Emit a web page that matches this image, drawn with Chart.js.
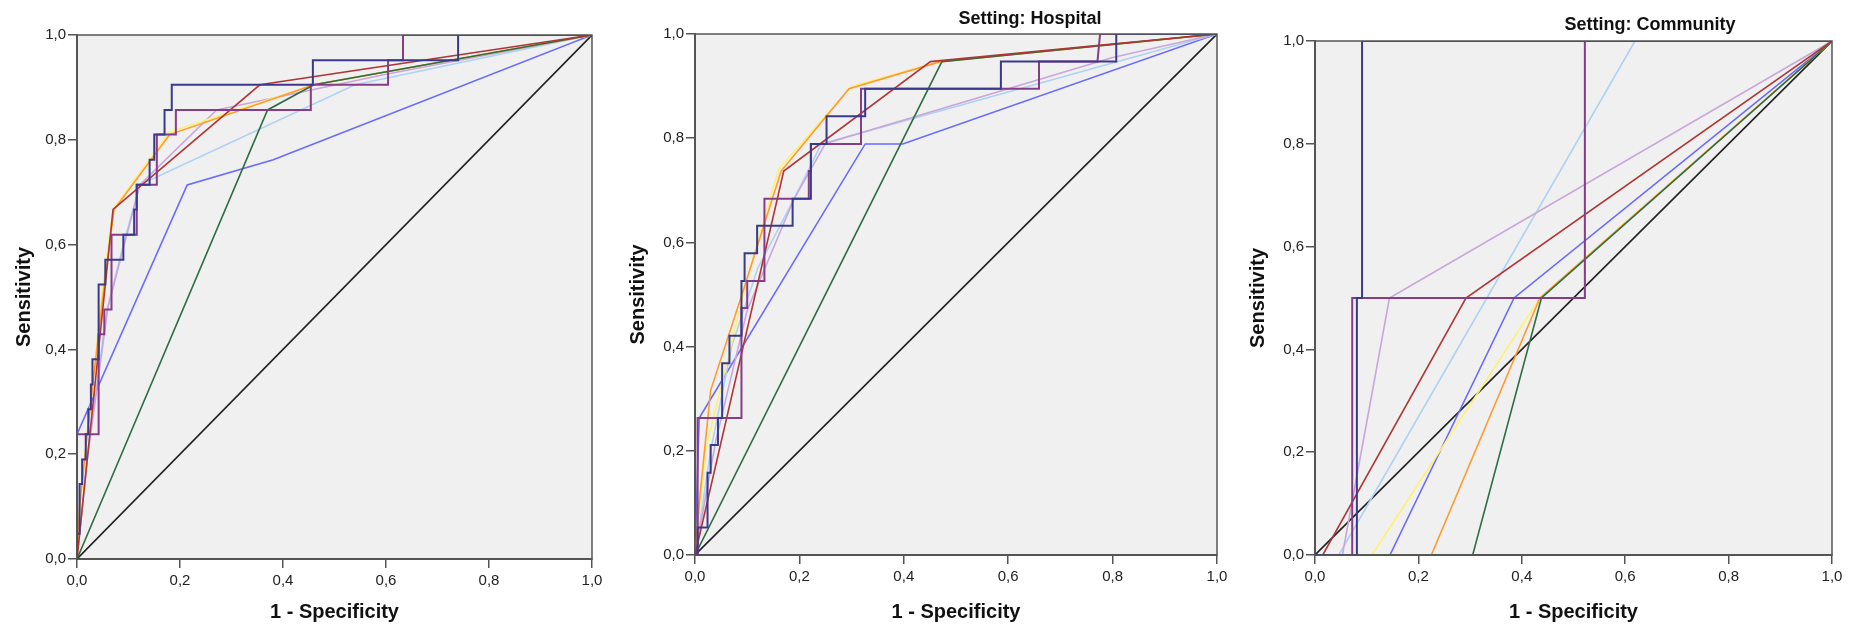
<!DOCTYPE html>
<html>
<head>
<meta charset="utf-8">
<script src="https://cdn.jsdelivr.net/npm/chart.js@4"></script>
<style>
  body { margin: 0; background: #fff; width: 1854px; height: 627px; position: relative; overflow: hidden; }
  canvas { position: absolute; top: 0; }
  .ttl { position: absolute; font: bold 18px 'Liberation Sans', Arial, sans-serif; color: #111; transform: translate(-50%, -50%); white-space: nowrap; }
</style>
</head>
<body>
<canvas id="c1" width="620" height="627" style="left:0"></canvas>
<canvas id="c2" width="620" height="627" style="left:620px"></canvas>
<canvas id="c3" width="614" height="627" style="left:1240px"></canvas>
<div class="ttl" style="left:1030px; top:18px">Setting: Hospital</div>
<div class="ttl" style="left:1650px; top:24px">Setting: Community</div>
<script>
// ROC curves, [1 - specificity, sensitivity] pairs
const refLine = [[0, 0], [1, 1]];

// all settings
const navyAll = [[0,0],[0,0.048],[0.005,0.048],[0.005,0.143],[0.01,0.143],[0.01,0.19],[0.017,0.19],[0.017,0.238],[0.022,0.238],[0.022,0.286],[0.027,0.286],[0.027,0.333],[0.03,0.333],[0.03,0.381],[0.042,0.381],[0.042,0.524],[0.055,0.524],[0.055,0.571],[0.09,0.571],[0.09,0.619],[0.111,0.619],[0.111,0.667],[0.116,0.667],[0.116,0.714],[0.141,0.714],[0.141,0.762],[0.15,0.762],[0.15,0.81],[0.17,0.81],[0.17,0.857],[0.184,0.857],[0.184,0.905],[0.458,0.905],[0.458,0.952],[0.74,0.952],[0.74,1],[1,1]];
const purpleAll = [[0,0],[0,0.238],[0.042,0.238],[0.042,0.429],[0.053,0.429],[0.053,0.476],[0.067,0.476],[0.067,0.619],[0.116,0.619],[0.116,0.714],[0.155,0.714],[0.155,0.81],[0.192,0.81],[0.192,0.857],[0.454,0.857],[0.454,0.905],[0.604,0.905],[0.604,0.952],[0.633,0.952],[0.633,1],[1,1]];
const orangeAll = [[0,0],[0.005,0.1],[0.02,0.24],[0.05,0.5],[0.072,0.667],[0.18,0.81],[0.46,0.905],[1,1]];
const yellowAll = [[0,0],[0.01,0.14],[0.03,0.33],[0.05,0.52],[0.07,0.667],[0.18,0.815],[0.46,0.905],[1,1]];
const redAll = [[0,0],[0.07,0.667],[0.355,0.905],[1,1]];
const greenAll = [[0,0],[0.37,0.857],[0.46,0.905],[1,1]];
const blueAll = [[0,0],[0,0.238],[0.214,0.714],[0.381,0.762],[1,1]];
const lightBlueAll = [[0,0],[0.02,0.2],[0.058,0.475],[0.09,0.6],[0.122,0.714],[0.54,0.905],[1,1]];
const lavenderAll = [[0,0],[0.02,0.19],[0.06,0.48],[0.122,0.714],[0.271,0.857],[0.6,0.925],[1,1]];

// hospital
const navyHosp = [[0,0],[0.005,0],[0.005,0.053],[0.024,0.053],[0.024,0.158],[0.03,0.158],[0.03,0.211],[0.044,0.211],[0.044,0.263],[0.052,0.263],[0.052,0.368],[0.066,0.368],[0.066,0.421],[0.089,0.421],[0.089,0.526],[0.095,0.526],[0.095,0.579],[0.119,0.579],[0.119,0.632],[0.187,0.632],[0.187,0.684],[0.222,0.684],[0.222,0.789],[0.252,0.789],[0.252,0.842],[0.326,0.842],[0.326,0.895],[0.586,0.895],[0.586,0.947],[0.807,0.947],[0.807,1],[1,1]];
const purpleHosp = [[0,0],[0.005,0],[0.005,0.263],[0.089,0.263],[0.089,0.474],[0.1,0.474],[0.1,0.526],[0.133,0.526],[0.133,0.684],[0.218,0.684],[0.218,0.737],[0.222,0.737],[0.222,0.789],[0.318,0.789],[0.318,0.895],[0.659,0.895],[0.659,0.947],[0.771,0.947],[0.776,1],[1,1]];
const orangeHosp = [[0,0],[0.01,0.12],[0.03,0.316],[0.09,0.5],[0.165,0.737],[0.295,0.895],[0.47,0.947],[1,1]];
const yellowHosp = [[0,0],[0.02,0.2],[0.1,0.53],[0.16,0.74],[0.3,0.9],[0.47,0.947],[1,1]];
const redHosp = [[0,0],[0.17,0.737],[0.451,0.947],[1,1]];
const greenHosp = [[0,0],[0.473,0.947],[1,1]];
const blueHosp = [[0,0],[0.008,0.263],[0.326,0.789],[0.398,0.789],[1,1]];
const lightBlueHosp = [[0,0],[0.03,0.2],[0.07,0.4],[0.12,0.55],[0.19,0.684],[0.242,0.789],[1,1]];
const lavenderHosp = [[0,0],[0.04,0.22],[0.1,0.47],[0.19,0.684],[0.25,0.79],[0.8,0.955],[1,1]];

// community
const navyComm = [[0,0],[0.081,0],[0.081,0.5],[0.091,0.5],[0.091,1],[1,1]];
const purpleComm = [[0,0],[0.072,0],[0.072,0.5],[0.522,0.5],[0.522,1],[1,1]];
const lavenderComm = [[0,0],[0.053,0],[0.144,0.5],[1,1]];
const redComm = [[0,0],[0.015,0],[0.292,0.5],[1,1]];
const lightBlueComm = [[0,0],[0.046,0],[0.619,1],[1,1]];
const blueComm = [[0,0],[0.145,0],[0.385,0.5],[1,1]];
const yellowComm = [[0,0],[0.11,0],[0.435,0.5],[1,1]];
const orangeComm = [[0,0],[0.225,0],[0.435,0.5],[1,1]];
const greenComm = [[0,0],[0.305,0],[0.438,0.5],[1,1]];

const tickVals = [0, 0.2, 0.4, 0.6, 0.8, 1];

const C = {
  navy: '#3a3a8c', purple: '#873c87', orange: '#ff9a30', yellow: '#fff070',
  red: '#b03636', green: '#2f6e45', blue: '#6a6aff', lightBlue: '#aed2f2',
  lavender: '#c9a6dc', ref: '#222222'
};

Chart.defaults.font.family = "'Liberation Sans', Arial, sans-serif";

function line(pts, color, w) {
  return {
    data: pts.map(p => ({ x: p[0], y: p[1] })),
    borderColor: color,
    borderWidth: w || 1.6,
    showLine: true,
    pointRadius: 0,
    tension: 0,
    fill: false
  };
}

const frame = {
  id: 'frame',
  beforeDraw(chart) {
    const { ctx, chartArea: a } = chart;
    ctx.save();
    ctx.fillStyle = '#f0f0f0';
    ctx.fillRect(a.left, a.top, a.right - a.left, a.bottom - a.top);
    ctx.restore();
  },
  afterDatasetsDraw(chart) {
    const { ctx, chartArea: a } = chart;
    ctx.save();
    ctx.strokeStyle = '#555';
    ctx.lineWidth = 1.5;
    ctx.strokeRect(a.left, a.top, a.right - a.left, a.bottom - a.top);
    ctx.restore();
  }
};

const fmt = v => v.toFixed(1).replace('.', ',');

function panel(id, sets, box) {
  return new Chart(document.getElementById(id), {
    type: 'scatter',
    data: { datasets: sets },
    plugins: [frame],
    options: {
      responsive: false,
      animation: false,
      layout: { padding: { top: box.top, right: box.right, left: 0, bottom: 0 } },
      plugins: { legend: { display: false }, tooltip: { enabled: false } },
      scales: {
        x: {
          type: 'linear', min: 0, max: 1,
          afterBuildTicks: s => { s.ticks = tickVals.map(v => ({ value: v })); },
          ticks: { padding: 4, color: '#222', font: { size: 15 }, callback: fmt, maxRotation: 0 },
          grid: { drawOnChartArea: false, tickLength: 9, color: '#555', lineWidth: 1.5 },
          border: { color: '#555', width: 2 },
          title: { display: true, text: '1 - Specificity', color: '#111', font: { size: 20, weight: 'bold' }, padding: { top: 0, bottom: 3 } },
          afterFit: s => { s.height = box.xh; }
        },
        y: {
          type: 'linear', min: 0, max: 1,
          afterBuildTicks: s => { s.ticks = tickVals.map(v => ({ value: v })); },
          ticks: { padding: 2, color: '#222', font: { size: 15 }, callback: fmt },
          grid: { drawOnChartArea: false, tickLength: 9, color: '#555', lineWidth: 1.5 },
          border: { color: '#555', width: 2 },
          title: { display: true, text: 'Sensitivity', color: '#111', font: { size: 20, weight: 'bold' }, padding: { top: box.ytp, bottom: 0 } },
          afterFit: s => { s.width = box.yw; }
        }
      }
    }
  });
}

// earlier datasets are drawn on top
panel('c1', [
  line(navyAll, C.navy, 2), line(purpleAll, C.purple, 2),
  line(redAll, C.red), line(greenAll, C.green), line(orangeAll, C.orange), line(yellowAll, C.yellow),
  line(lavenderAll, C.lavender), line(lightBlueAll, C.lightBlue),
  line(blueAll, C.blue), line(refLine, C.ref)
], { top: 35, right: 28, yw: 77, xh: 68, ytp: 12 });

panel('c2', [
  line(navyHosp, C.navy, 2), line(purpleHosp, C.purple, 2),
  line(redHosp, C.red), line(greenHosp, C.green), line(orangeHosp, C.orange), line(yellowHosp, C.yellow),
  line(lavenderHosp, C.lavender), line(lightBlueHosp, C.lightBlue),
  line(blueHosp, C.blue), line(refLine, C.ref)
], { top: 34, right: 23, yw: 75, xh: 72, ytp: 6 });

panel('c3', [
  line(navyComm, C.navy, 2), line(purpleComm, C.purple, 2),
  line(redComm, C.red), line(greenComm, C.green), line(orangeComm, C.orange), line(yellowComm, C.yellow),
  line(lavenderComm, C.lavender), line(lightBlueComm, C.lightBlue),
  line(blueComm, C.blue), line(refLine, C.ref)
], { top: 41, right: 22, yw: 75, xh: 72, ytp: 6 });
</script>
</body>
</html>
